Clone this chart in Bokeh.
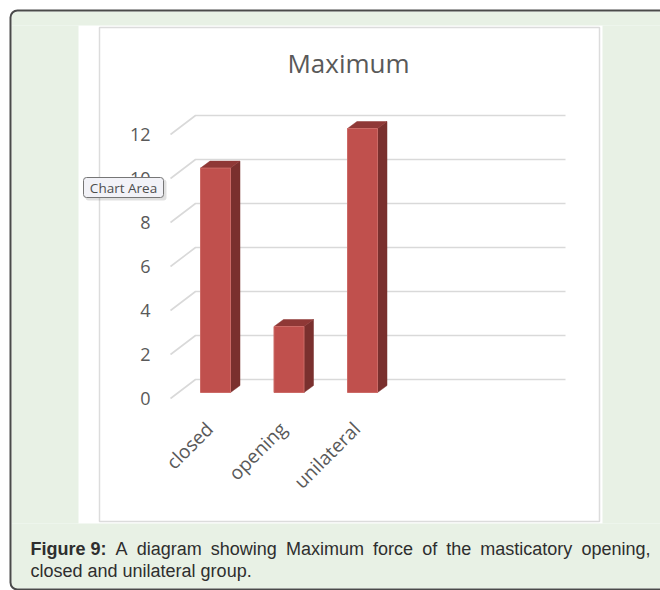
import math
from bokeh.plotting import figure
from bokeh.models import Range1d, FixedTicker, BoxAnnotation, Label
from bokeh.embed import file_html
from bokeh.resources import INLINE

# ---------------- data ----------------
categories = ["closed", "opening", "unilateral"]
values = [10.2, 3.0, 12.0]
y_ticks = [0, 2, 4, 6, 8, 10, 12]

title_text = "Maximum"
caption_bold = "Figure 9:"
caption_line1 = "A diagram showing Maximum force of the masticatory opening,"
caption_line2 = "closed and unilateral group."
tooltip_text = "Chart Area"

# ---------------- geometry (pixels) ----------------
W, H = 660, 590
X0_PX, PX_X = 215.0, 73.5      # pixel of first category, pixels per category
Y0_PX, PX_Y = 398.0, 22.0      # pixel of value 0 on the axis plane, pixels per unit

def X(px):
    return (px - X0_PX) / PX_X

def Y(py):
    return (Y0_PX - py) / PX_Y

GREEN = "#e8f1e5"
FONT = "Open Sans"

# the plot frame covers the whole canvas; axes are pinned with fixed_location
p = figure(width=W, height=H,
           x_range=Range1d(X(0), X(W)), y_range=Range1d(Y(H), Y(0)),
           output_backend="svg", toolbar_location=None, title=None,
           min_border=0, min_border_left=0, min_border_right=0,
           min_border_top=0, min_border_bottom=0)
p.outline_line_color = None
p.background_fill_color = "white"
p.border_fill_color = "white"
p.xgrid.visible = False
p.ygrid.visible = False

# axes
for ax in (p.xaxis[0], p.yaxis[0]):
    ax.axis_line_color = None
    ax.major_tick_line_color = None
    ax.minor_tick_line_color = None
    ax.major_tick_out = 0
    ax.major_tick_in = 0
    ax.major_label_text_font = FONT
    ax.major_label_text_color = "#595959"

p.yaxis.fixed_location = X(166)
p.yaxis.ticker = FixedTicker(ticks=y_ticks)
p.yaxis.major_label_text_font_size = "18px"
p.yaxis.major_label_standoff = 16

LABEL_SHIFT = 0.08   # category labels sit at the front-left edge of each category
xt = [i - LABEL_SHIFT for i in range(len(categories))]
p.xaxis.fixed_location = Y(409)
p.xaxis.ticker = FixedTicker(ticks=xt)
p.xaxis.major_label_overrides = {t: c for t, c in zip(xt, categories)}
p.xaxis.major_label_orientation = math.pi / 4
p.xaxis.major_label_text_font_size = "19px"
p.xaxis.major_label_standoff = 16

# ---------------- 3D-style gridlines ----------------
BACK = 19.0 / PX_Y
gx, gy = [], []
for t in y_ticks:
    gx.append([X(170), X(195), X(565)])
    gy.append([t, t + BACK, t + BACK])
p.multi_line(gx, gy, line_color="#d9d9d9", line_width=1.6)

# ---------------- 3D-style bars ----------------
HW = 15.0 / PX_X
DX = 9.5 / PX_X
DY = 7.0 / PX_Y
BASE = 6.0 / PX_Y
xs = list(range(len(categories)))

side_x = [[x + HW, x + HW + DX, x + HW + DX, x + HW] for x in xs]
side_y = [[BASE, BASE + DY, v + BASE + DY, v + BASE] for v in values]
p.patches(side_x, side_y, fill_color="#7a302e", line_color="#7a302e", line_width=0.5)

top_x = [[x - HW, x + HW, x + HW + DX, x - HW + DX] for x in xs]
top_y = [[v + BASE, v + BASE, v + BASE + DY, v + BASE + DY] for v in values]
p.patches(top_x, top_y, fill_color="#8f3836", line_color="#8f3836", line_width=0.5)

p.quad(left=[x - HW for x in xs], right=[x + HW for x in xs],
       bottom=[BASE] * len(xs), top=[v + BASE for v in values],
       fill_color="#c0504d", line_color="#cc6a66", line_width=1)

# ---------------- page decorations ----------------
def box(l, t, r, b, **kw):
    args = dict(left=X(l), right=X(r), top=Y(t), bottom=Y(b),
                fill_color=GREEN, fill_alpha=1.0, line_color=None, line_alpha=1.0,
                level="annotation")
    args.update(kw)
    p.add_layout(BoxAnnotation(**args))

# green area between outer frame and white chart panel
box(11, 11, 660, 25, border_radius=(6, 0, 0, 0))
box(11, 523, 660, 588, border_radius=(0, 0, 0, 6))
box(11, 25, 78, 523)
box(602, 25, 660, 523)
# outer dark frame
box(10, 10, 690, 589, fill_color=None, fill_alpha=0, line_color="#4a4a4a", line_width=2, border_radius=7)
# inner light border of the chart area
box(99, 27, 599, 521, fill_color=None, fill_alpha=0, line_color="#dcdcdc", line_width=1.5)

BASELINE_FIX = 0.4   # Label alphabetic baseline correction (fraction of font size)

def label(px, py, text, size=18, **kw):
    args = dict(x=X(px), y=Y(py), text=text,
                text_font=FONT, text_font_size=f"{size}px",
                text_color="#333333", text_align="left", text_baseline="alphabetic")
    args.update(kw)
    p.add_layout(Label(**args))

label(348, 73 - BASELINE_FIX * 26, title_text, size=26, text_align="center", text_color="#595959")

# justified caption, first line (Arial / Liberation Sans advance widths, per 1000 em)
ARIAL = {" ": 278, "A": 667, "M": 833, "F": 611, "a": 556, "c": 500, "d": 556, "e": 556,
         "f": 278, "g": 556, "h": 556, "i": 222, "l": 222, "m": 833, "n": 556, "o": 556,
         "p": 556, "r": 333, "s": 500, "t": 278, "u": 556, "w": 722, "x": 500, "y": 500,
         ",": 278, ".": 278, "9": 556, ":": 278}
ARIAL_BOLD = {"F": 611, "i": 278, "g": 611, "u": 611, "r": 389, "e": 556, " ": 278,
              "9": 556, ":": 333}
CAP_SIZE = 18
CAP_L, CAP_R = 30, 650
cap_base1 = 556 - BASELINE_FIX * CAP_SIZE
cap_base2 = 578 - BASELINE_FIX * CAP_SIZE

def tw(s, table):
    return sum(table.get(ch, 556) for ch in s) * CAP_SIZE / 1000.0

words = caption_line1.split(" ")
bold_w = tw(caption_bold, ARIAL_BOLD)
word_w = [tw(w_, ARIAL) for w_ in words]
gap = (CAP_R - CAP_L - bold_w - sum(word_w)) / len(words)
label(CAP_L, cap_base1, caption_bold, size=CAP_SIZE, text_font="Liberation Sans",
      text_font_style="bold", text_color="#2e2e2e")
cx = CAP_L + bold_w + gap
for w_, ww in zip(words, word_w):
    label(cx, cap_base1, w_, size=CAP_SIZE, text_font="Liberation Sans", text_color="#2e2e2e")
    cx += ww + gap
label(CAP_L, cap_base2, caption_line2, size=CAP_SIZE, text_font="Liberation Sans",
      text_color="#2e2e2e")

# "Chart Area" tooltip
box(85, 179, 166, 200, fill_color="#000000", fill_alpha=0.12, border_radius=3)
box(83, 177, 163, 197, fill_color="#f2f2f7", line_color="#767676", line_width=1, border_radius=3)
label(123, 187.5, tooltip_text, size=13.5, text_align="center", text_baseline="middle",
      text_color="#4d4d4d")

open("out.html", "w").write(file_html(p, INLINE))
